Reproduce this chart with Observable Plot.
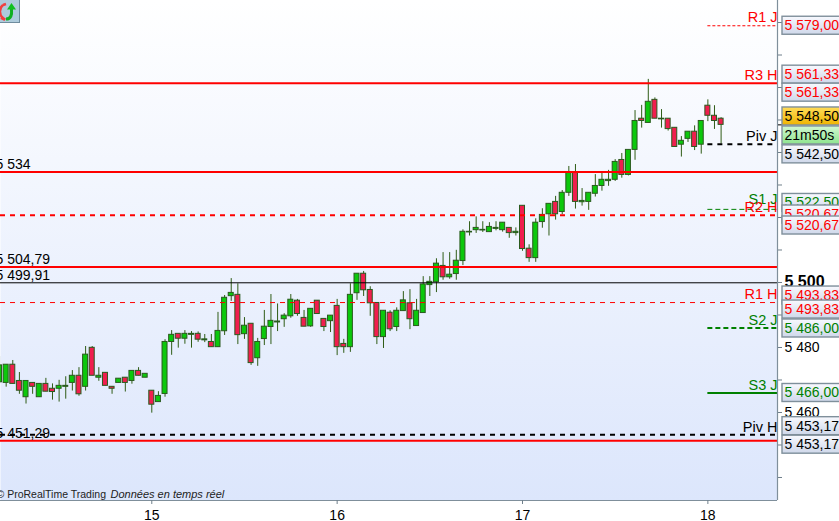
<!DOCTYPE html>
<html><head><meta charset="utf-8">
<script src="https://cdn.jsdelivr.net/npm/d3@7"></script>
<script src="https://cdn.jsdelivr.net/npm/@observablehq/plot@0.6"></script>
<style>html,body{margin:0;padding:0;background:#fff;overflow:hidden}svg{display:block;overflow:hidden}</style>
</head><body><div id="chart"></div>
<script>
const opens=[5469.3,5469.1,5474.7,5469.7,5464.7,5469.1,5464.7,5468.8,5467.3,5467.3,5467.9,5469.1,5471.3,5467.9,5479.9,5470.7,5472.2,5467.9,5469.1,5470.7,5469.7,5472.8,5470.7,5466.7,5463.2,5465.7,5481.7,5484.2,5482.7,5483.9,5484.2,5482.2,5481.7,5480.1,5485.0,5495.8,5496.2,5484.1,5487.3,5476.7,5482.6,5486.3,5487.7,5488.7,5489.6,5494.4,5489.1,5486.5,5494.4,5488.8,5488.1,5492.8,5481.1,5480.1,5496.7,5502.7,5497.7,5493.7,5483.2,5490.7,5486.3,5491.2,5493.6,5486.6,5490.6,5499.2,5500.1,5505.1,5501.6,5502.6,5506.6,5515.4,5516.1,5516.0,5515.5,5516.5,5516.1,5516.8,5515.2,5523.6,5510.4,5507.5,5518.6,5521.0,5524.8,5521.7,5527.6,5533.9,5524.7,5524.8,5527.3,5529.7,5531.2,5531.6,5537.7,5533.1,5540.8,5550.4,5549.1,5556.2,5550.2,5550.4,5547.6,5542.4,5544.2,5546.4,5542.4,5554.4,5551.3,5550.4];
const highs=[5477.2,5474.7,5476.0,5472.3,5469.7,5469.1,5468.8,5470.5,5468.8,5469.9,5471.0,5472.9,5473.8,5480.3,5480.3,5473.8,5472.2,5467.9,5470.4,5470.7,5472.8,5473.8,5471.9,5466.7,5466.4,5482.4,5485.2,5484.2,5485.2,5484.9,5484.8,5484.0,5484.0,5490.8,5496.0,5501.2,5499.6,5489.2,5487.3,5482.8,5491.4,5496.3,5493.4,5490.4,5496.3,5494.8,5491.4,5491.9,5494.4,5488.8,5489.8,5494.8,5482.5,5499.6,5502.7,5503.4,5498.7,5493.7,5491.3,5491.3,5492.2,5497.2,5497.8,5494.8,5501.8,5501.8,5507.3,5509.2,5509.2,5509.9,5516.2,5518.7,5520.2,5518.7,5518.4,5518.7,5518.4,5516.8,5516.8,5523.6,5511.6,5519.6,5522.7,5524.2,5526.5,5528.3,5535.7,5536.3,5528.9,5527.6,5533.2,5533.6,5534.5,5537.8,5539.7,5540.8,5552.9,5554.5,5562.5,5556.8,5553.2,5550.4,5547.6,5544.9,5546.4,5548.2,5549.7,5556.2,5554.4,5550.7];
const lows=[5468.8,5467.8,5468.8,5465.6,5462.6,5465.6,5464.7,5466.4,5463.8,5463.2,5464.1,5466.6,5465.0,5466.6,5471.3,5469.6,5468.2,5465.6,5469.1,5466.3,5468.7,5471.3,5470.7,5459.8,5463.2,5464.7,5477.6,5479.8,5481.0,5479.8,5481.6,5481.5,5480.1,5480.1,5483.7,5494.2,5480.9,5482.5,5474.5,5474.2,5480.6,5480.9,5484.9,5486.2,5489.0,5489.6,5486.4,5486.2,5490.3,5484.9,5484.6,5477.5,5478.2,5478.5,5494.5,5495.7,5489.6,5480.9,5479.7,5484.9,5484.9,5491.2,5485.5,5486.6,5490.6,5495.7,5496.9,5500.7,5501.0,5500.7,5505.2,5514.3,5515.1,5515.4,5515.5,5515.9,5515.5,5513.6,5514.3,5509.6,5506.2,5506.2,5516.7,5514.3,5519.2,5520.9,5526.5,5522.6,5523.5,5522.2,5526.3,5528.1,5529.6,5531.1,5532.1,5532.8,5537.6,5547.5,5549.1,5550.4,5547.5,5546.6,5541.7,5538.6,5543.1,5540.6,5539.5,5549.5,5547.1,5542.6];
const closes=[5474.5,5474.7,5468.8,5466.7,5469.7,5467.9,5468.8,5466.4,5466.3,5468.2,5468.2,5471.3,5465.6,5477.8,5471.3,5471.3,5468.2,5467.3,5470.4,5469.1,5472.8,5471.3,5471.9,5462.4,5465.1,5481.7,5483.9,5482.7,5484.2,5484.2,5482.4,5482.5,5480.1,5485.1,5495.3,5496.8,5483.8,5486.7,5475.2,5481.7,5486.4,5488.2,5488.0,5489.8,5494.7,5490.3,5486.4,5491.9,5490.3,5486.3,5489.8,5480.1,5480.1,5496.2,5502.7,5497.6,5493.6,5483.2,5491.3,5485.6,5491.3,5494.5,5488.7,5491.3,5499.4,5500.2,5505.8,5501.6,5502.4,5506.7,5515.6,5515.6,5516.8,5516.2,5517.1,5516.8,5518.4,5515.2,5515.6,5510.3,5507.5,5518.4,5520.8,5524.2,5521.0,5527.6,5533.9,5524.8,5525.1,5527.6,5529.7,5531.6,5531.6,5537.1,5533.1,5540.8,5549.7,5549.7,5555.6,5550.4,5550.4,5547.2,5541.7,5543.6,5546.4,5541.7,5549.7,5551.3,5549.7,5548.5];

const dayLabels=["15","16","17","18"];
const dayStarts=[23,51,79,107];

const yTicks=[5440,5450,5460,5470,5480,5490,5500,5510,5520,5530,5540,5550,5560,5570,5580];
const yLabelled=[5460,5480];

const fullLevels=[5561.33,5534,5504.79,5451.29];
const leftLabels=["5 534","5 504,79","5 499,91","5 451,29"];
const leftPrices=[5534,5504.79,5499.91,5451.29];

const pivotNames=["R1 J","R3 H","Piv J","S1 J","R2 H","R1 H","S2 J","S3 J","Piv H"];
const pivotPrices=[5579,5561.33,5542.5,5522.5,5520.67,5493.83,5486,5466,5453.17];
const pivotTones=["red","red","black","green","red","red","green","green","black"];

const boxLabels=["5 579,00","5 561,33","5 561,33","5 548,50","21m50s","5 542,50","5 522,50","5 520,67","5 520,67","5 493,83","5 493,83","5 486,00","5 466,00","5 453,17","5 453,17"];
const boxPrices=[5579,5561.33,5561.33,5548.5,5548.5,5542.5,5522.5,5520.67,5520.67,5493.83,5493.83,5486,5466,5453.17,5453.17];

// layout
const RED="#ff0000",GREEN="#008000",xEnd=117.52,yBottom=5432.92;
const toneColor={red:RED,green:GREEN,black:"#000"};
const boxTones=["red","red","red","black","black","black","green","red","red","red","red","green","green","black","black"];
const boxShift=[0,-8.5,9.5,-8.4,10.6,10,-6.4,-0.8,10.2,-7,7,0.5,0,-8.5,10];
const boxFill=["b","b","b","g","t","b","b","b","b","b","b","b","b","b","b"];
const labelShift=[-8,-8,-8,-10,-8,-8,-8,-8,-7];
const FONT="'Liberation Sans',Arial,sans-serif";

const candles=opens.map((o,i)=>({i,o,h:highs[i],l:lows[i],c:closes[i]}));

const gradient=(id,stops)=>{
  const g=d3.create("svg:linearGradient").attr("id",id).attr("x1",0).attr("x2",0).attr("y1",0).attr("y2",1);
  stops.forEach(([o,c])=>g.append("stop").attr("offset",o).attr("stop-color",c));
  return g.node();
};
const defs=()=>{
  const d=d3.create("svg:defs");
  d.node().append(
    gradient("bg",[[0,"#ffffff"],[1,"#dce6fc"]]),
    gradient("boxb",[[0,"#f8f9fe"],[1,"#cfd8ea"]]),
    gradient("boxg",[[0,"#ffdc5a"],[1,"#f0b400"]]),
    gradient("boxt",[[0,"#d2f8d2"],[1,"#8fe48f"]])
  );
  return d.node();
};
const icon=()=>{
  const g=d3.create("svg:g");
  g.append("rect").attr("x",-1).attr("y",-1).attr("width",20.5).attr("height",23.5).attr("fill","#aecbdc").attr("stroke","#6f8c9e");
  g.append("path").attr("d","M3 5 C-1 8 -1 15 3 18 L1 18 L5 20 M3 5 L6 4").attr("fill","none").attr("stroke","#f04040").attr("stroke-width",2.4);
  g.append("path").attr("d","M6 19 C11 19 12 15 11.5 9").attr("fill","none").attr("stroke","#10b020").attr("stroke-width",3);
  g.append("path").attr("d","M11.5 3 L16 9.5 L7 9.5 Z").attr("fill","#10c020");
  return g.node();
};

const boxMarks=boxLabels.flatMap((label,k)=>[
  Plot.rect([boxPrices[k]],{x1:()=>xEnd,x2:()=>xEnd,y1:d=>d,y2:d=>d,insetLeft:5,insetRight:-80,insetTop:-9+boxShift[k],insetBottom:-9-boxShift[k],fill:`url(#box${boxFill[k]})`,stroke:"#7f8f9b",strokeWidth:1.4}),
  Plot.text([label],{x:()=>xEnd,y:()=>boxPrices[k],dx:7,dy:boxShift[k],text:d=>d,textAnchor:"start",fontSize:14,fontFamily:FONT,fill:toneColor[boxTones[k]]})
]);

const dashed=(p,w,dash,color,from)=>Plot.ruleY([p],{x1:from,x2:xEnd,stroke:color,strokeWidth:w,strokeDasharray:dash});

document.getElementById("chart").append(Plot.plot({
  width:839,height:521,marginLeft:0,marginTop:0,marginRight:62,marginBottom:21,
  style:{background:"transparent",fontFamily:FONT},
  x:{domain:[0.145,xEnd]},
  y:{domain:[yBottom,5586.77]},
  marks:[
    defs,
    Plot.frame({fill:"url(#bg)",stroke:null}),
    Plot.ruleX(candles,{x:"i",y1:"l",y2:"h",stroke:"#2f5c16",strokeWidth:1}),
    Plot.rect(candles.filter(d=>d.c>=d.o),{x1:"i",x2:"i",y1:"o",y2:"c",insetLeft:-2.5,insetRight:-2.5,fill:"#0cc80c",stroke:"#2a5a1e",strokeWidth:1}),
    Plot.rect(candles.filter(d=>d.c<d.o),{x1:"i",x2:"i",y1:"o",y2:"c",insetLeft:-2.5,insetRight:-2.5,fill:"#f01e4e",stroke:"#2a5a1e",strokeWidth:1}),
    Plot.ruleY(fullLevels,{stroke:RED,strokeWidth:2}),
    Plot.ruleY([5499.91],{stroke:"#000",strokeWidth:1}),
    Plot.ruleY([5520.67],{stroke:RED,strokeWidth:2,strokeDasharray:"5,5"}),
    Plot.ruleY([5493.83],{stroke:RED,strokeWidth:1,strokeDasharray:"5,5"}),
    Plot.ruleY([5453.17],{stroke:"#000",strokeWidth:2,strokeDasharray:"5,5"}),
    dashed(5579,1,"3,2",RED,107),
    dashed(5542.5,2,"5,5","#000",107),
    dashed(5522.5,1,"5,3",GREEN,107),
    dashed(5486,2,"5,3",GREEN,107),
    dashed(5466,2,null,GREEN,107),
    Plot.text(leftLabels,{x:()=>0.145,y:(d,k)=>leftPrices[k],dx:-5,dy:-7,text:d=>d,textAnchor:"start",fontSize:14,fontFamily:FONT,fill:"#000"}),
    ...pivotNames.map((n,k)=>Plot.text([n],{x:()=>xEnd,y:()=>pivotPrices[k],dx:0,dy:labelShift[k],text:d=>d,textAnchor:"end",fontSize:14.5,fontFamily:FONT,fill:toneColor[pivotTones[k]]})),
    Plot.ruleX([xEnd],{stroke:"#7f8f9b",strokeWidth:1.2}),
    Plot.ruleY([yBottom],{stroke:"#7f8f9b",strokeWidth:1.2}),
    Plot.axisY(yTicks,{anchor:"right",label:null,tickSize:4,tickPadding:3,stroke:"#6f7f8b",fontSize:14,fontFamily:FONT,fill:"#000",tickFormat:d=>yLabelled.includes(d)?d3.format(",")(d).replace(","," "):""}),
    Plot.axisY([5500],{anchor:"right",label:null,tickSize:0,tickPadding:7,dy:-1,fontSize:16,fontWeight:"bold",fontFamily:FONT,fill:"#000",tickFormat:()=>"5 500"}),
    Plot.axisY([5548.5],{anchor:"right",label:null,tickSize:5,stroke:"#000",tickFormat:()=>""}),
    Plot.axisX(dayStarts,{anchor:"bottom",label:null,tickSize:4,tickPadding:6,stroke:"#6f7f8b",fontSize:14,fontFamily:FONT,fill:"#000",tickFormat:d=>dayLabels[dayStarts.indexOf(d)]}),
    Plot.text(["© ProRealTime Trading"],{frameAnchor:"bottom-left",dx:-4,dy:-3,text:d=>d,textAnchor:"start",fontSize:10.5,fontFamily:FONT,fill:"#222"}),
    Plot.text(["Données en temps réel"],{frameAnchor:"bottom-left",dx:110,dy:-3,text:d=>d,textAnchor:"start",fontSize:11,fontStyle:"italic",fontFamily:FONT,fill:"#222"}),
    ...boxMarks,
    icon
  ]
}));
</script></body></html>
